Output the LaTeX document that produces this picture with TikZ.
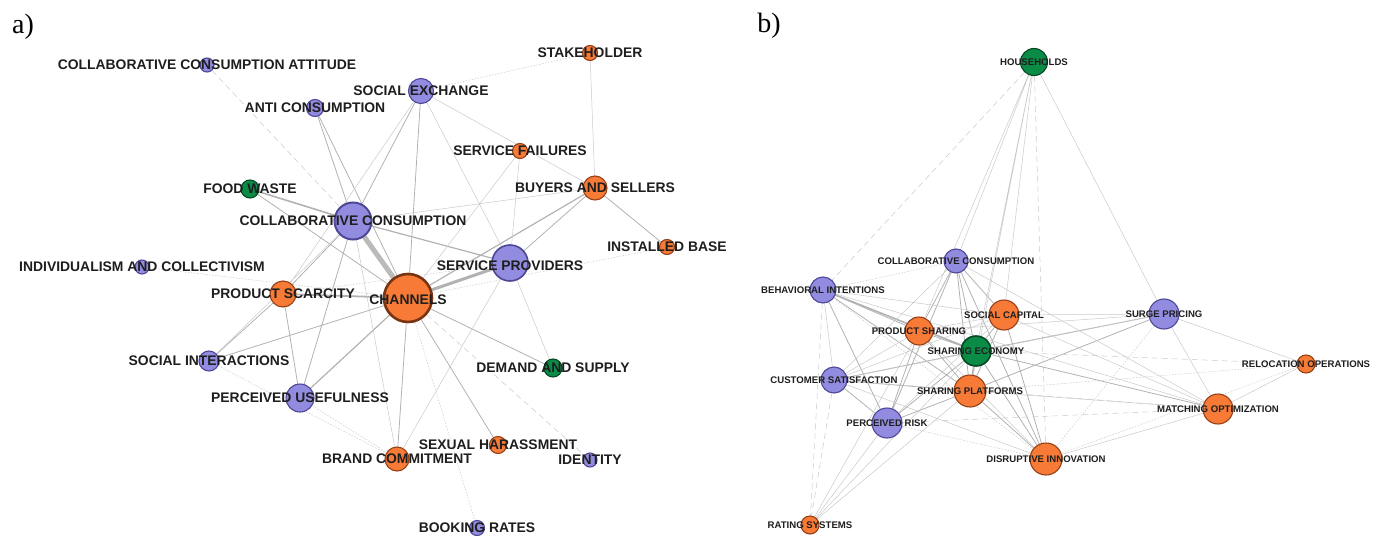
\documentclass[tikz,border=0pt]{standalone}
\usepackage{fontspec}
\setmainfont{Liberation Sans}
\newfontfamily\panelfont{Liberation Serif}
\usepackage{xcolor}
\usetikzlibrary{backgrounds}
\definecolor{nodeblue}{RGB}{146,140,224}
\definecolor{nodeblueline}{RGB}{78,70,150}
\definecolor{nodeorange}{RGB}{247,122,54}
\definecolor{nodeorangeline}{RGB}{150,64,24}
\definecolor{nodegreen}{RGB}{10,140,70}
\definecolor{nodegreenline}{RGB}{6,72,36}
\definecolor{edgegray}{RGB}{178,178,178}
\definecolor{labeltext}{RGB}{30,30,30}
\tikzset{
    topic/.style = {circle, inner sep=0pt, line width=1.1pt},
    topic-blue/.style = {topic, fill=nodeblue, draw=nodeblueline},
    topic-orange/.style = {topic, fill=nodeorange, draw=nodeorangeline},
    topic-green/.style = {topic, fill=nodegreen, draw=nodegreenline},
    big-label/.style = {font=\bfseries\fontsize{13.9}{14}\selectfont, text=labeltext, inner sep=0pt},
    small-label/.style = {font=\bfseries\fontsize{9.6}{10}\selectfont, text=labeltext, inner sep=0pt},
    panel-tag/.style = {font=\panelfont\fontsize{28}{30}\selectfont, inner sep=0pt},
    link/.style = {draw=edgegray, line width=0.8pt},
    link-faint/.style = {draw=edgegray!70, line width=0.5pt},
    link-dashed/.style = {link-faint, dash pattern=on 6pt off 4pt},
    link-dotted/.style = {link-faint, dash pattern=on 1.5pt off 1.5pt},
}

\begin{document}
\begin{tikzpicture}[x=1pt, y=-1pt]
\useasboundingbox (0,0) rectangle (1384,538);

\node[panel-tag] (tag-a) at (23,27) {a)};
\node[panel-tag] (tag-b) at (769,26) {b)};

% a)
\node[topic-blue, minimum size=14pt] (att) at (207,65) {};
\node[topic-orange, minimum size=15pt] (stake) at (590,53) {};
\node[topic-blue, minimum size=25pt] (socex) at (421,91) {};
\node[topic-blue, minimum size=17pt] (anti) at (315,108) {};
\node[topic-orange, minimum size=15pt] (fail) at (520,151) {};
\node[topic-green, minimum size=18pt] (food) at (250,189) {};
\node[topic-orange, minimum size=24pt] (buyers) at (595,188) {};
\node[topic-blue, minimum size=37pt, line width=2pt] (coll) at (353,221) {};
\node[topic-orange, minimum size=15pt] (inst) at (667,247) {};
\node[topic-blue, minimum size=36pt, line width=1.6pt] (serv) at (510,263) {};
\node[topic-blue, minimum size=14pt] (indiv) at (142,267) {};
\node[topic-orange, minimum size=26pt] (scarc) at (283,294) {};
\node[topic-orange, minimum size=48pt, line width=2.6pt, draw=nodeorangeline!80!black] (chan) at (408,298) {};
\node[topic-blue, minimum size=20pt] (socint) at (209,361) {};
\node[topic-green, minimum size=18pt] (demand) at (553,368) {};
\node[topic-blue, minimum size=28pt] (useful) at (300,398) {};
\node[topic-orange, minimum size=17pt] (harass) at (498,445) {};
\node[topic-orange, minimum size=24pt] (brand) at (397,459) {};
\node[topic-blue, minimum size=14pt] (ident) at (590,460) {};
\node[topic-blue, minimum size=15pt] (book) at (477,528) {};

\node[big-label] (att-l) at (att) {COLLABORATIVE CONSUMPTION ATTITUDE};
\node[big-label] (stake-l) at (stake) {STAKEHOLDER};
\node[big-label] (socex-l) at (socex) {SOCIAL EXCHANGE};
\node[big-label] (anti-l) at (anti) {ANTI CONSUMPTION};
\node[big-label] (fail-l) at (fail) {SERVICE FAILURES};
\node[big-label] (food-l) at (food) {FOOD WASTE};
\node[big-label] (buyers-l) at (buyers) {BUYERS AND SELLERS};
\node[big-label] (coll-l) at (coll) {COLLABORATIVE CONSUMPTION};
\node[big-label] (inst-l) at (inst) {INSTALLED BASE};
\node[big-label] (serv-l) at ([yshift=-3pt]serv) {SERVICE PROVIDERS};
\node[big-label] (indiv-l) at (indiv) {INDIVIDUALISM AND COLLECTIVISM};
\node[big-label] (scarc-l) at (scarc) {PRODUCT SCARCITY};
\node[big-label] (chan-l) at ([yshift=-2pt]chan) {CHANNELS};
\node[big-label] (socint-l) at (socint) {SOCIAL INTERACTIONS};
\node[big-label] (demand-l) at (demand) {DEMAND AND SUPPLY};
\node[big-label] (useful-l) at (useful) {PERCEIVED USEFULNESS};
\node[big-label] (harass-l) at (harass) {SEXUAL HARASSMENT};
\node[big-label] (brand-l) at (brand) {BRAND COMMITMENT};
\node[big-label] (ident-l) at (ident) {IDENTITY};
\node[big-label] (book-l) at (book) {BOOKING RATES};

% b)
\node[topic-green, minimum size=27pt] (house) at (1034,62) {};
\node[topic-blue, minimum size=24pt] (bcoll) at (956,261) {};
\node[topic-blue, minimum size=26pt] (behav) at (823,290) {};
\node[topic-orange, minimum size=30pt] (social) at (1004,315) {};
\node[topic-blue, minimum size=30pt] (surge) at (1164,314) {};
\node[topic-orange, minimum size=28pt] (prodsh) at (919,331) {};
\node[topic-green, minimum size=30pt, line width=1.6pt] (sheco) at (976,351) {};
\node[topic-orange, minimum size=18pt] (reloc) at (1306,364) {};
\node[topic-blue, minimum size=26pt] (custsat) at (834,380) {};
\node[topic-orange, minimum size=32pt] (shplat) at (970,391) {};
\node[topic-orange, minimum size=30pt] (match) at (1218,409) {};
\node[topic-blue, minimum size=30pt] (risk) at (887,423) {};
\node[topic-orange, minimum size=32pt] (disrupt) at (1046,459) {};
\node[topic-orange, minimum size=18pt] (rating) at (810,525) {};

\node[small-label] (house-l) at (house) {HOUSEHOLDS};
\node[small-label] (bcoll-l) at (bcoll) {COLLABORATIVE CONSUMPTION};
\node[small-label] (behav-l) at (behav) {BEHAVIORAL INTENTIONS};
\node[small-label] (social-l) at (social) {SOCIAL CAPITAL};
\node[small-label] (surge-l) at (surge) {SURGE PRICING};
\node[small-label] (prodsh-l) at (prodsh) {PRODUCT SHARING};
\node[small-label] (sheco-l) at (sheco) {SHARING ECONOMY};
\node[small-label] (reloc-l) at (reloc) {RELOCATION OPERATIONS};
\node[small-label] (custsat-l) at (custsat) {CUSTOMER SATISFACTION};
\node[small-label] (shplat-l) at (shplat) {SHARING PLATFORMS};
\node[small-label] (match-l) at (match) {MATCHING OPTIMIZATION};
\node[small-label] (risk-l) at (risk) {PERCEIVED RISK};
\node[small-label] (disrupt-l) at (disrupt) {DISRUPTIVE INNOVATION};
\node[small-label] (rating-l) at (rating) {RATING SYSTEMS};

\begin{scope}[on background layer]
% a) links
\draw[link, line width=5pt, draw=edgegray!90] (coll) -- (chan);
\draw[link, line width=3pt] (serv) -- (chan);
\draw[link, line width=1.8pt] (scarc) -- (chan);
\draw[link, line width=1.6pt] (food) -- (coll);
\draw[link, line width=1.2pt] (buyers) -- (chan) (useful) -- (chan) (coll) -- (serv);
\draw[link] (anti) -- (coll) (anti) -- (chan) (socex) -- (coll) (socex) -- (chan)
    (buyers) -- (inst) (buyers) -- (serv) (food) -- (chan) (socint) -- (chan)
    (brand) -- (chan) (harass) -- (chan) (demand) -- (chan) (coll) -- (scarc)
    (coll) -- (useful) (scarc) -- (socint) (scarc) -- (useful);
\draw[link-faint] (socex) -- (scarc) (socex) -- (buyers) (socex) -- (serv)
    (stake) -- (buyers) (fail) -- (serv) (fail) -- (chan) (buyers) -- (coll)
    (serv) -- (demand) (serv) -- (brand) (coll) -- (brand) (coll) -- (socint);
\draw[link-dashed] (att) -- (coll) (chan) -- (ident);
\draw[link-dotted] (socex) -- (stake) (inst) -- (chan) (chan) -- (book)
    (indiv) -- (chan) (socint) -- (brand) (useful) -- (brand) (scarc) -- (serv);

% b) links
\draw[link, line width=1.6pt] (sheco) -- (shplat) (behav) -- (sheco);
\draw[link] (bcoll) -- (prodsh) (bcoll) -- (sheco) (bcoll) -- (social)
    (bcoll) -- (shplat) (bcoll) -- (risk) (bcoll) -- (disrupt)
    (behav) -- (prodsh) (behav) -- (risk) (behav) -- (shplat)
    (custsat) -- (sheco) (custsat) -- (shplat) (custsat) -- (risk)
    (risk) -- (shplat) (risk) -- (sheco) (risk) -- (prodsh)
    (prodsh) -- (sheco) (prodsh) -- (shplat) (sheco) -- (social)
    (sheco) -- (surge) (sheco) -- (match) (sheco) -- (disrupt)
    (social) -- (shplat) (social) -- (disrupt) (shplat) -- (surge)
    (shplat) -- (disrupt);
\draw[link-faint] (house) -- (bcoll) (house) -- (prodsh) (house) -- (sheco)
    (house) -- (social) (house) -- (surge) (house) -- (shplat)
    (bcoll) -- (custsat) (bcoll) -- (match) (behav) -- (social)
    (behav) -- (custsat) (behav) -- (match) (custsat) -- (prodsh)
    (custsat) -- (disrupt) (custsat) -- (surge) (custsat) -- (social)
    (risk) -- (rating) (risk) -- (social) (prodsh) -- (social)
    (prodsh) -- (disrupt) (prodsh) -- (rating) (prodsh) -- (surge)
    (sheco) -- (rating) (social) -- (surge) (social) -- (match)
    (shplat) -- (match) (shplat) -- (rating) (surge) -- (reloc)
    (surge) -- (match) (match) -- (reloc) (match) -- (disrupt);
\draw[link-dashed] (house) -- (behav) (house) -- (disrupt) (behav) -- (rating)
    (custsat) -- (rating) (custsat) -- (match) (risk) -- (match)
    (sheco) -- (reloc);
\draw[link-dotted] (bcoll) -- (behav) (behav) -- (disrupt) (risk) -- (disrupt)
    (shplat) -- (reloc) (surge) -- (disrupt) (reloc) -- (disrupt);
\end{scope}
\end{tikzpicture}
\end{document}
